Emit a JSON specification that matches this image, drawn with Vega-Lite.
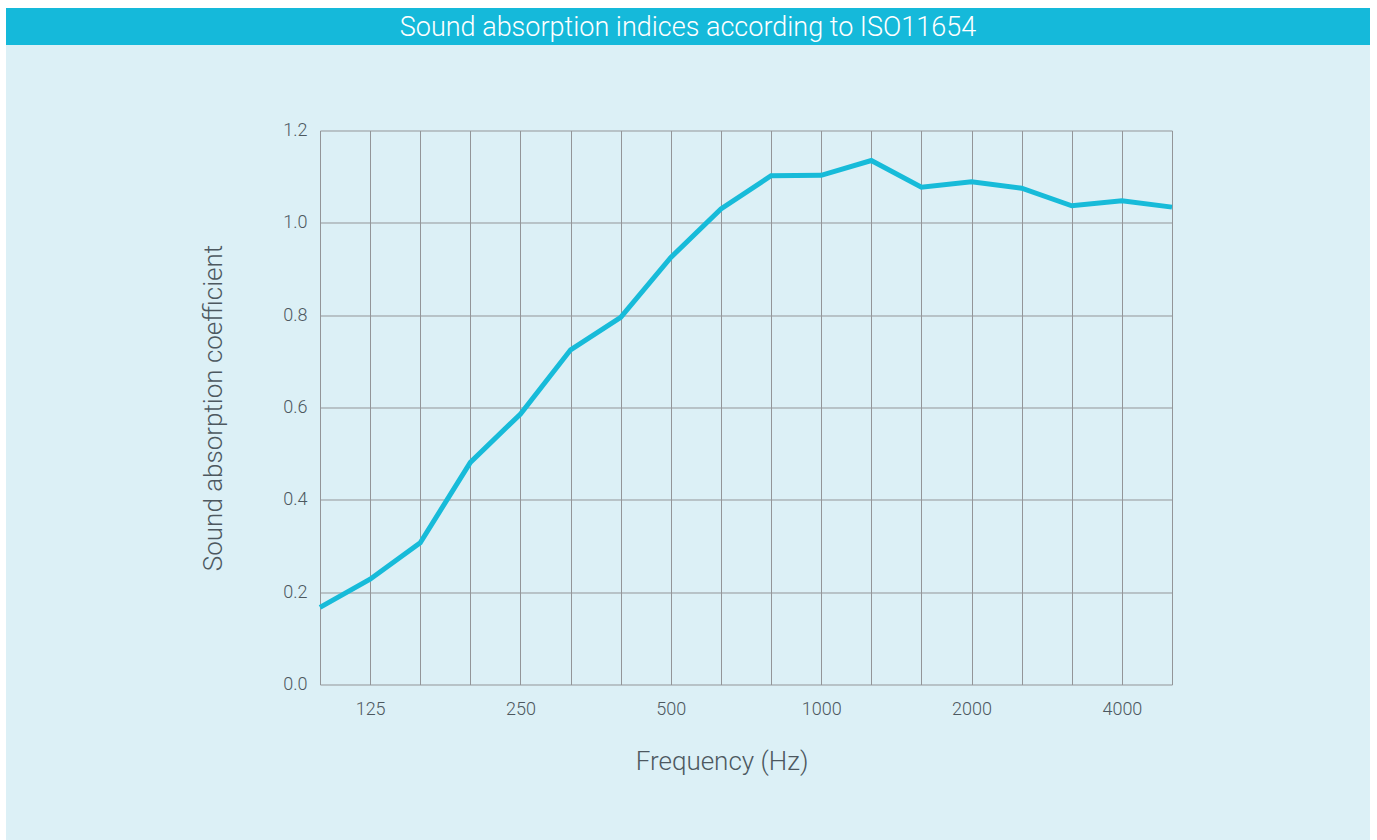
{
  "$schema": "https://vega.github.io/schema/vega-lite/v6.json",
  "width": 852,
  "height": 554,
  "autosize": {"type": "none"},
  "padding": {"left": 320, "top": 130.5, "right": 205, "bottom": 155.5},
  "background": "#DCF0F6",
  "config": {"view": {"stroke": null}, "font": "Roboto"},
  "data": {
    "values": [
      {"freq": 100, "alpha": 0.167},
      {"freq": 125, "alpha": 0.228},
      {"freq": 160, "alpha": 0.307},
      {"freq": 200, "alpha": 0.481},
      {"freq": 250, "alpha": 0.586},
      {"freq": 315, "alpha": 0.725},
      {"freq": 400, "alpha": 0.795},
      {"freq": 500, "alpha": 0.925},
      {"freq": 630, "alpha": 1.030},
      {"freq": 800, "alpha": 1.102},
      {"freq": 1000, "alpha": 1.103},
      {"freq": 1250, "alpha": 1.135},
      {"freq": 1600, "alpha": 1.077},
      {"freq": 2000, "alpha": 1.089},
      {"freq": 2500, "alpha": 1.075},
      {"freq": 3150, "alpha": 1.037},
      {"freq": 4000, "alpha": 1.048},
      {"freq": 5000, "alpha": 1.034}
    ]
  },
  "layer": [
    {
      "data": {"values": [{}]},
      "mark": {"type": "rect", "color": "#FFFFFF"},
      "encoding": {
        "x": {"datum": -0.37559, "type": "quantitative", "scale": {"domain": [0, 1], "nice": false, "zero": false}, "axis": null},
        "x2": {"datum": 1.24061},
        "y": {"datum": 1.23556, "type": "quantitative", "scale": {"domain": [0, 1], "nice": false, "zero": false}, "axis": null},
        "y2": {"datum": 1.22112}
      }
    },
    {
      "data": {"values": [{}]},
      "mark": {"type": "rect", "color": "#FFFFFF"},
      "encoding": {
        "x": {"datum": -0.37559, "type": "quantitative", "scale": {"domain": [0, 1], "nice": false, "zero": false}, "axis": null},
        "x2": {"datum": -0.36854},
        "y": {"datum": 1.23556, "type": "quantitative", "scale": {"domain": [0, 1], "nice": false, "zero": false}, "axis": null},
        "y2": {"datum": -0.28069}
      }
    },
    {
      "data": {"values": [{}]},
      "mark": {"type": "rect", "color": "#FFFFFF"},
      "encoding": {
        "x": {"datum": 1.23239, "type": "quantitative", "scale": {"domain": [0, 1], "nice": false, "zero": false}, "axis": null},
        "x2": {"datum": 1.24061},
        "y": {"datum": 1.23556, "type": "quantitative", "scale": {"domain": [0, 1], "nice": false, "zero": false}, "axis": null},
        "y2": {"datum": -0.28069}
      }
    },
    {
      "data": {"values": [{}]},
      "mark": {"type": "rect", "color": "#15B9DA"},
      "encoding": {
        "x": {"datum": -0.36854, "type": "quantitative", "scale": {"domain": [0, 1], "nice": false, "zero": false}, "axis": null},
        "x2": {"datum": 1.23239},
        "y": {"datum": 1.22112, "type": "quantitative", "scale": {"domain": [0, 1], "nice": false, "zero": false}, "axis": null},
        "y2": {"datum": 1.15433}
      }
    },
    {
      "data": {"values": [{}]},
      "mark": {"type": "text", "text": "Sound absorption indices according to ISO11654", "color": "#FFFFFF", "font": "Roboto", "fontWeight": 300, "fontSize": 27, "align": "center", "baseline": "middle"},
      "encoding": {
        "x": {"datum": 0.43192, "type": "quantitative", "scale": {"domain": [0, 1], "nice": false, "zero": false}, "axis": null},
        "y": {"datum": 1.18412, "type": "quantitative", "scale": {"domain": [0, 1], "nice": false, "zero": false}, "axis": null}
      }
    },
    {
      "mark": {"type": "line", "color": "#17BBD9", "strokeWidth": 5},
      "encoding": {
        "x": {
          "field": "freq",
          "type": "ordinal",
          "sort": "ascending",
          "scale": {"type": "point", "padding": 0},
          "axis": {
            "title": "Frequency (Hz)",
            "labelAngle": 0,
            "labelExpr": "indexof([125, 250, 500, 1000, 2000, 4000], datum.value) >= 0 ? datum.label : ''",
            "grid": true,
            "gridColor": "#939598",
            "gridWidth": 1,
            "gridOpacity": 1,
            "domain": false,
            "ticks": false,
            "labelPadding": 16,
            "labelFontSize": 18,
            "labelFontWeight": 300,
            "labelColor": "#4D585F",
            "titleFontSize": 26,
            "titleFontWeight": 300,
            "titleColor": "#4D585F",
            "titlePadding": 30,
            "titleX": 401.5
          }
        },
        "y": {
          "field": "alpha",
          "type": "quantitative",
          "scale": {"domain": [0, 1.2], "nice": false, "zero": true},
          "axis": {
            "title": "Sound absorption coefficient",
            "values": [0, 0.2, 0.4, 0.6, 0.8, 1.0, 1.2],
            "format": ".1f",
            "grid": true,
            "gridColor": "#939598",
            "gridWidth": 1,
            "gridOpacity": 1,
            "domain": false,
            "ticks": false,
            "labelPadding": 13,
            "labelFontSize": 18,
            "labelFontWeight": 300,
            "labelColor": "#4D585F",
            "titleFontSize": 26,
            "titleFontWeight": 300,
            "titleColor": "#4D585F",
            "titlePadding": 56
          }
        }
      }
    }
  ],
  "resolve": {"scale": {"x": "independent", "y": "independent"}}
}
